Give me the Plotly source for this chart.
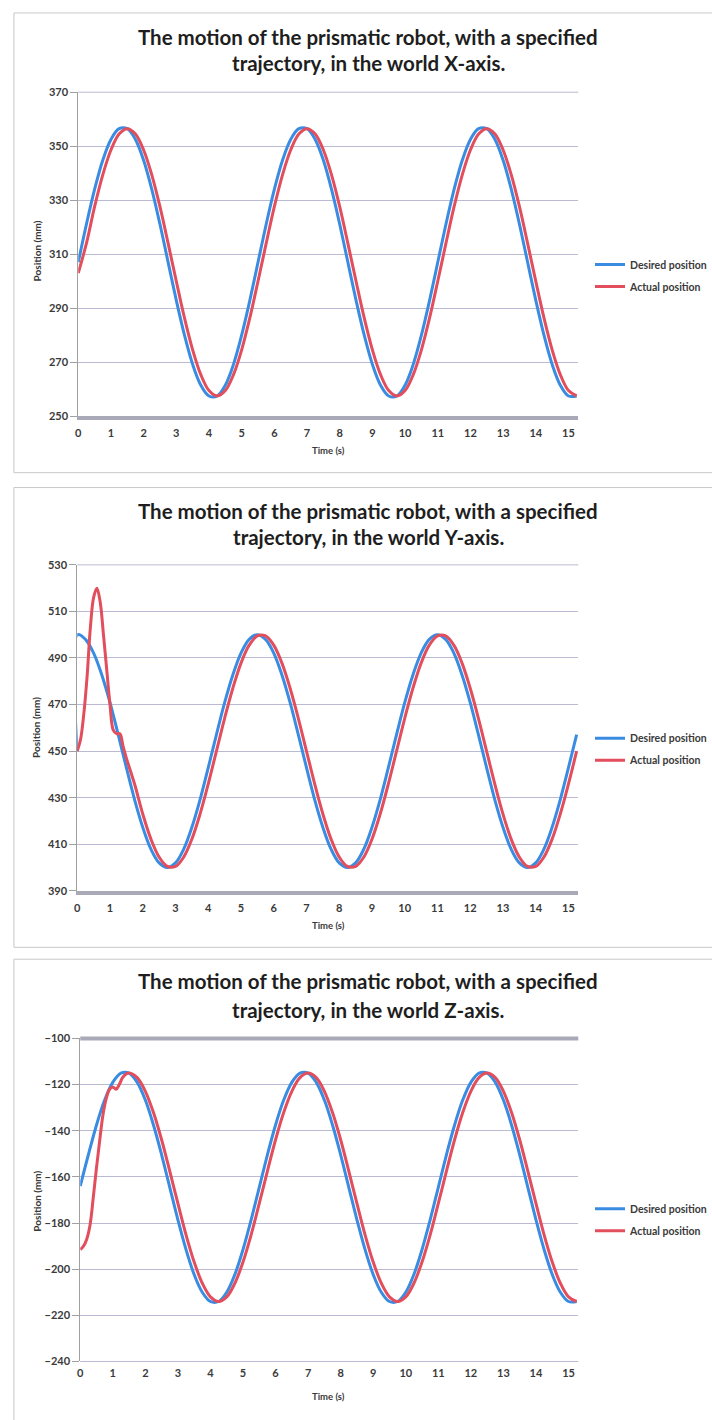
import plotly.graph_objects as go

W, H = 712, 1420

# ---------------- data ----------------
t = [0, 0.25, 0.5, 0.75, 1, 1.25, 1.5, 1.75, 2, 2.25, 2.5, 2.75, 3, 3.25, 3.5, 3.75,
     4, 4.25, 4.5, 4.75, 5, 5.25, 5.5, 5.75, 6, 6.25, 6.5, 6.75, 7, 7.25, 7.5, 7.75,
     8, 8.25, 8.5, 8.75, 9, 9.25, 9.5, 9.75, 10, 10.25, 10.5, 10.75, 11, 11.25, 11.5,
     11.75, 12, 12.25, 12.5, 12.75, 13, 13.25, 13.5, 13.75, 14, 14.25, 14.5, 14.75,
     15, 15.25]

# X-axis panel
x_desired = [307, 321.1, 334.0, 344.8, 352.5, 356.5, 356.5, 352.5, 344.8, 334.0, 321.1,
             307, 292.9, 280.0, 269.2, 261.5, 257.5, 257.5, 261.5, 269.2, 280.0, 292.9,
             307, 321.1, 334.0, 344.8, 352.5, 356.5, 356.5, 352.5, 344.8, 334.0, 321.1,
             307, 292.9, 280.0, 269.2, 261.5, 257.5, 257.5, 261.5, 269.2, 280.0, 292.9,
             307, 321.1, 334.0, 344.8, 352.5, 356.5, 356.5, 352.5, 344.8, 334.0, 321.1,
             307, 292.9, 280.0, 269.2, 261.5, 257.5, 257.5]
x_actual = [303, 314.0, 327.6, 339.4, 348.6, 354.5, 356.5, 354.5, 348.6, 339.4, 327.6,
            314.0, 300.0, 286.4, 274.6, 265.4, 259.5, 257.5, 259.5, 265.4, 274.6, 286.4,
            300.0, 314.0, 327.6, 339.4, 348.6, 354.5, 356.5, 354.5, 348.6, 339.4, 327.6,
            314.0, 300.0, 286.4, 274.6, 265.4, 259.5, 257.5, 259.5, 265.4, 274.6, 286.4,
            300.0, 314.0, 327.6, 339.4, 348.6, 354.5, 356.5, 354.5, 348.6, 339.4, 327.6,
            314.0, 300.0, 286.4, 274.6, 265.4, 259.5, 257.5]

# Y-axis panel
t_y_desired = [0, 0.01] + t[1:]
y_desired = [450, 500, 498.0, 492.1, 482.7, 470.8, 457.1, 442.9, 429.2, 417.3, 407.9, 402.0,
             400, 402.0, 407.9, 417.3, 429.2, 442.9, 457.1, 470.8, 482.7, 492.1, 498.0,
             500, 498.0, 492.1, 482.7, 470.8, 457.1, 442.9, 429.2, 417.3, 407.9, 402.0,
             400, 402.0, 407.9, 417.3, 429.2, 442.9, 457.1, 470.8, 482.7, 492.1, 498.0,
             500, 498.0, 492.1, 482.7, 470.8, 457.1, 442.9, 429.2, 417.3, 407.9, 402.0,
             400, 402.0, 407.9, 417.3, 429.2, 442.9, 457.1]
t_y_start = [0, 0.1, 0.2, 0.3, 0.4, 0.5, 0.6, 0.7, 0.8, 0.9, 1.0, 1.1, 1.2, 1.3, 1.4, 1.5, 1.75]
y_actual_start = [450, 455, 466, 482, 503, 516, 520, 514, 500, 485, 470, 459, 457.5, 457.5,
                  452, 447, 435.9]
y_actual_rest = [423.0, 412.2, 404.5, 400.5, 400.5, 404.5, 412.2, 423.0, 435.9, 450.0, 464.1,
                 477.0, 487.8, 495.5, 499.5, 499.5, 495.5, 487.8, 477.0, 464.1, 450.0, 435.9,
                 423.0, 412.2, 404.5, 400.5, 400.5, 404.5, 412.2, 423.0, 435.9, 450.0, 464.1,
                 477.0, 487.8, 495.5, 499.5, 499.5, 495.5, 487.8, 477.0, 464.1, 450.0, 435.9,
                 423.0, 412.2, 404.5, 400.5, 400.5, 404.5, 412.2, 423.0, 435.9, 450.0]
t_y_actual = t_y_start + t[8:]
y_actual = y_actual_start + y_actual_rest

# Z-axis panel
z_desired = [-164, -150.4, -137.5, -126.7, -119.0, -115.0, -115.0, -119.0, -126.7, -137.5,
             -150.4, -164.5, -178.6, -191.5, -202.3, -210.0, -214.0, -214.0, -210.0, -202.3,
             -191.5, -178.6,
             -164.5, -150.4, -137.5, -126.7, -119.0, -115.0, -115.0, -119.0, -126.7, -137.5,
             -150.4, -164.5, -178.6, -191.5, -202.3, -210.0, -214.0, -214.0, -210.0, -202.3,
             -191.5, -178.6,
             -164.5, -150.4, -137.5, -126.7, -119.0, -115.0, -115.0, -119.0, -126.7, -137.5,
             -150.4, -164.5, -178.6, -191.5, -202.3, -210.0, -214.0, -214.0]
t_z_start = [0, 0.1, 0.2, 0.3, 0.4, 0.5, 0.6, 0.7, 0.8, 0.9, 1.0, 1.1, 1.2, 1.3, 1.4, 1.5]
z_actual_start = [-191.5, -190, -187, -181, -169, -156, -144, -133, -126, -122, -121, -122,
                  -120, -117, -115.5, -115.0]
z_actual_rest = [-117.0, -122.9, -132.1, -143.9, -157.5, -171.5, -185.1, -196.9, -206.1,
                 -212.0, -214.0, -212.0, -206.1, -196.9, -185.1,
                 -171.5, -157.5, -143.9, -132.1, -122.9, -117.0, -115.0, -117.0, -122.9,
                 -132.1, -143.9, -157.5, -171.5, -185.1, -196.9, -206.1, -212.0, -214.0,
                 -212.0, -206.1, -196.9, -185.1,
                 -171.5, -157.5, -143.9, -132.1, -122.9, -117.0, -115.0, -117.0, -122.9,
                 -132.1, -143.9, -157.5, -171.5, -185.1, -196.9, -206.1, -212.0, -214.0]
t_z_actual = t_z_start + t[7:]
z_actual = z_actual_start + z_actual_rest

series_names = ["Desired position", "Actual position"]
titles = [
    ("The motion of the prismatic robot, with a specified", "trajectory, in the world X-axis."),
    ("The motion of the prismatic robot, with a specified", "trajectory, in the world Y-axis."),
    ("The motion of the prismatic robot, with a specified", "trajectory, in the world Z-axis."),
]
y_ranges = [[250, 370], [390, 530], [-240, -100]]
x_tick_vals = list(range(0, 16))
y_axis_title = "Position (mm)"
x_axis_title = "Time (s)"

# ---------------- styling / layout ----------------
BLUE = "#3a8ce2"
RED = "#e24e5c"
GRID = "#babad2"
THICK = "#a9a9b8"
TXT = "#3a3a3a"
FONT = "Lato"


def py(px):
    return 1 - px / H


geo = [
    dict(top=86, bot=413, ftop=6, fbot=470, t1=30, t2=57, leg=271, ytc=246, xt=448, left=76),
    dict(top=563, bot=892, ftop=485, fbot=949, t1=509, t2=535, leg=749, ytc=727, xt=927, left=75),
    dict(top=1041, bot=1367, ftop=961, fbot=1440, t1=983, t2=1012, leg=1224, ytc=1205, xt=1402, left=78),
]
RIGHT = 581

data = [
    (t, x_desired, t, x_actual),
    (t_y_desired, y_desired, t_y_actual, y_actual),
    (t, z_desired, t_z_actual, z_actual),
]

fig = go.Figure()
layout = dict(
    width=W, height=H, margin=dict(l=0, r=0, t=0, b=0),
    paper_bgcolor="white", plot_bgcolor="white",
    font=dict(family=FONT, color=TXT),
    annotations=[], shapes=[],
)

for i, (g, (td, vd, ta, va)) in enumerate(zip(geo, data)):
    n = "" if i == 0 else str(i + 1)
    xa, ya, lg = "x" + n, "y" + n, "legend" + n
    fig.add_trace(go.Scatter(x=td, y=vd, mode="lines", name=series_names[0],
                             line=dict(color=BLUE, width=3, shape="spline", smoothing=1),
                             xaxis=xa, yaxis=ya, legend=lg, legendgroup=f"d{i}"))
    fig.add_trace(go.Scatter(x=ta, y=va, mode="lines", name=series_names[1],
                             line=dict(color=RED, width=3, shape="spline", smoothing=1),
                             xaxis=xa, yaxis=ya, legend=lg, legendgroup=f"a{i}"))

    dom_x = [g["left"] / W, RIGHT / W]
    dom_y = [py(g["bot"]), py(g["top"])]
    bottom_thick = i < 2
    layout["xaxis" + n] = dict(
        domain=dom_x, range=[0, 15.3], anchor=ya, tickmode="array", tickvals=x_tick_vals,
        showgrid=False, zeroline=False, showline=bottom_thick, linecolor=THICK,
        linewidth=4, ticks="", ticklabelstandoff=4,
        tickfont=dict(family=FONT, size=11, color=TXT, weight="bold"),
    )
    layout["yaxis" + n] = dict(
        domain=dom_y, range=y_ranges[i], anchor=xa, dtick=20, tick0=y_ranges[i][0],
        showgrid=True, gridcolor=GRID, gridwidth=1, zeroline=False,
        showline=True, linecolor="#a0a0a0", linewidth=1,
        ticks="outside", ticklen=7, tickcolor="#a0a0a0",
        tickfont=dict(family=FONT, size=11, color=TXT, weight="bold"),
    )
    layout[lg] = dict(
        x=593 / W, xanchor="left", y=py(g["leg"]), yanchor="middle",
        bgcolor="rgba(0,0,0,0)", itemwidth=30, tracegroupgap=3,
        font=dict(family=FONT, size=10.5, color=TXT, weight="bold"),
    )
    if bottom_thick:
        # gridline along the top edge of the plot area
        layout["shapes"].append(dict(
            type="line", xref=xa + " domain", yref=ya + " domain", x0=0, x1=1, y0=1, y1=1,
            line=dict(color=GRID, width=1), layer="below"))
    else:
        # horizontal axis line drawn along the top (axis crosses at the maximum)
        layout["shapes"].append(dict(
            type="line", xref=xa + " domain", yref=ya + " domain", x0=0, x1=1, y0=1, y1=1,
            line=dict(color=THICK, width=4), layer="above"))
        layout["shapes"].append(dict(
            type="line", xref=xa + " domain", yref=ya + " domain", x0=0, x1=1, y0=0, y1=0,
            line=dict(color=GRID, width=1), layer="below"))
    layout["shapes"].append(dict(
        type="rect", xref="paper", yref="paper", x0=11 / W, x1=1.02,
        y0=py(g["fbot"]), y1=py(g["ftop"]), line=dict(color="#c8c8c8", width=1),
        layer="below"))
    for txt, yy in ((titles[i][0], g["t1"]), (titles[i][1], g["t2"])):
        layout["annotations"].append(dict(
            text=txt, xref="paper", yref="paper", x=369 / W, y=py(yy),
            xanchor="center", yanchor="middle", showarrow=False,
            font=dict(family=FONT, size=20.5, color="#1e1e1e", weight="bold")))
    layout["annotations"].append(dict(
        text=y_axis_title, xref="paper", yref="paper", x=34 / W, y=py(g["ytc"]),
        textangle=-90, xanchor="center", yanchor="middle", showarrow=False,
        font=dict(family=FONT, size=10, color=TXT, weight="bold")))
    layout["annotations"].append(dict(
        text=x_axis_title, xref="paper", yref="paper", x=329 / W, y=py(g["xt"]),
        xanchor="center", yanchor="middle", showarrow=False,
        font=dict(family=FONT, size=9.5, color=TXT, weight="bold")))

fig.update_layout(**layout)
fig.write_html("out.html")
